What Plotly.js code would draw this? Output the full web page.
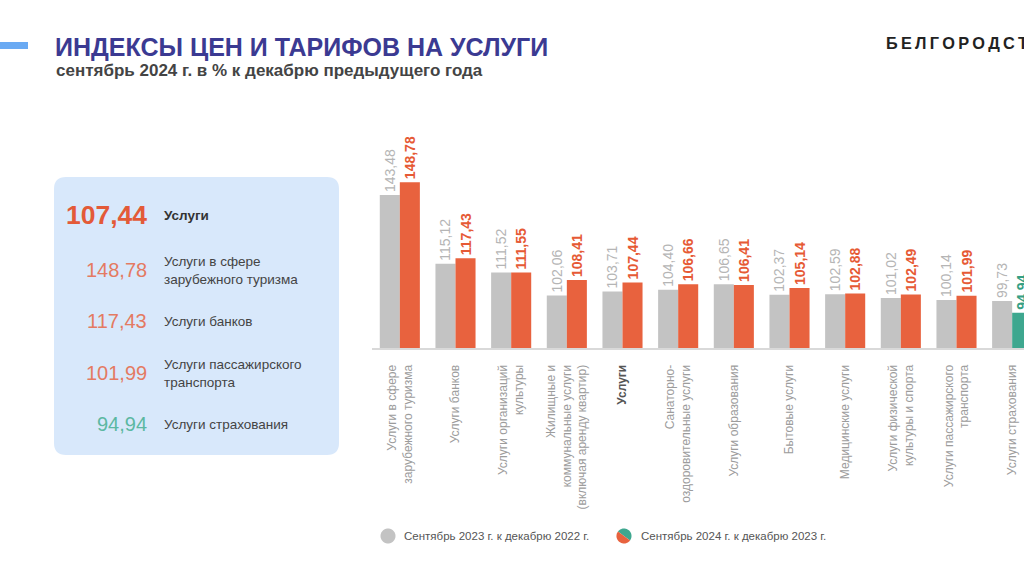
<!DOCTYPE html>
<html><head><meta charset="utf-8">
<script src="https://cdn.plot.ly/plotly-3.0.1.min.js"></script>
<style>html,body{margin:0;padding:0;overflow:hidden;background:#fff;width:1024px;height:576px}#chart{width:1100px;height:576px}</style>
</head><body><div id="chart"></div>
<script>
// ---- data ----
const categories = ['Услуги в сфере зарубежного туризма','Услуги банков','Услуги организаций культуры','Жилищные и коммунальные услуги (включая аренду квартир)','Услуги','Санаторно-оздоровительные услуги','Услуги образования','Бытовые услуги','Медицинские услуги','Услуги физической культуры и спорта','Услуги пассажирского транспорта','Услуги страхования'];
const tickLabels = ['Услуги в сфере<br>зарубежного туризма','Услуги банков','Услуги организаций<br>культуры','Жилищные и<br>коммунальные услуги<br>(включая аренду квартир)','<b><span style="color:#555">Услуги</span></b>','Санаторно-<br>оздоровительные услуги','Услуги образования','Бытовые услуги','Медицинские услуги','Услуги физической<br>культуры и спорта','Услуги пассажирского<br>транспорта','Услуги страхования'];
const sep2023 = [143.48,115.12,111.52,102.06,103.71,104.40,106.65,102.37,102.59,101.02,100.14,99.73];
const sep2024 = [148.78,117.43,111.55,108.41,107.44,106.66,106.41,105.14,102.88,102.49,101.99,94.94];
const seriesNames = ['Сентябрь 2023 г. к декабрю 2022 г.','Сентябрь 2024 г. к декабрю 2023 г.'];
const panelIdx = [4,0,1,10,11];
const panelLabels = ['Услуги','Услуги в сфере<br>зарубежного туризма','Услуги банков','Услуги пассажирского<br>транспорта','Услуги страхования'];
const titleText = 'ИНДЕКСЫ ЦЕН И ТАРИФОВ НА УСЛУГИ';
const subtitleText = 'сентябрь 2024 г. в % к декабрю предыдущего года';
const brandText = 'БЕЛГОРОДСТАТ';

// ---- layout helpers ----
const W = 1100, H = 576, M = {l:372, r:60, t:120, b:228};
const PW = W - M.l - M.r, PH = H - M.t - M.b;
const px = x => (x - M.l) / PW;
const py = y => (H - M.b - y) / PH;
const fmt = v => v.toFixed(2).replace('.', ',');

const GRAY = '#c3c3c3', ORANGE = '#e8623e', TEAL = '#3ea78f';
const col24 = sep2024.map(v => v < 100 ? TEAL : ORANGE);
const txt24 = sep2024.map(v => v < 100 ? '#36a084' : '#e65a35');

const FONT = 'Liberation Sans, Arial, sans-serif';

const traces = [
  {type:'bar', name:seriesNames[0], x:categories, y:sep2023, marker:{color:GRAY},
   text:sep2023.map(fmt), textposition:'outside', textangle:-90, constraintext:'none',
   textfont:{family:FONT, size:14, color:'#b5b5b5'}, cliponaxis:false, hoverinfo:'none'},
  {type:'bar', name:seriesNames[1], x:categories, y:sep2024, marker:{color:col24},
   text:sep2024.map(fmt), textposition:'outside', textangle:-90, constraintext:'none',
   textfont:{family:FONT, size:14, color:txt24, weight:700}, cliponaxis:false, hoverinfo:'none'}
];

function rr(x0,y0,x1,y1,r){
  return `M${px(x0+r)},${py(y0)} L${px(x1-r)},${py(y0)} Q${px(x1)},${py(y0)} ${px(x1)},${py(y0+r)} L${px(x1)},${py(y1-r)} Q${px(x1)},${py(y1)} ${px(x1-r)},${py(y1)} L${px(x0+r)},${py(y1)} Q${px(x0)},${py(y1)} ${px(x0)},${py(y1-r)} L${px(x0)},${py(y0+r)} Q${px(x0)},${py(y0)} ${px(x0+r)},${py(y0)} Z`;
}
function halfCircle(cx,cy,r,a0){
  let s = '';
  for(let i=0;i<=24;i++){
    const a = a0 + Math.PI*i/24;
    const X = cx + r*Math.cos(a), Y = cy - r*Math.sin(a);
    s += (i===0?'M':'L') + px(X) + ',' + py(Y) + ' ';
  }
  return s + 'Z';
}

const shapes = [
  {type:'rect', xref:'paper', yref:'paper', x0:px(0), x1:px(28), y0:py(42), y1:py(49), fillcolor:'#6aaaf3', line:{width:0}},
  {type:'path', xref:'paper', yref:'paper', path:rr(54,177,339,455,12), fillcolor:'#d8e8fb', line:{width:0}},
  {type:'path', xref:'paper', yref:'paper', path:halfCircle(388,536,7.5,0), fillcolor:GRAY, line:{width:0}},
  {type:'path', xref:'paper', yref:'paper', path:halfCircle(388,536,7.5,Math.PI), fillcolor:GRAY, line:{width:0}},
  {type:'path', xref:'paper', yref:'paper', path:halfCircle(624,536,7.5,-Math.PI/5), fillcolor:TEAL, line:{width:0}},
  {type:'path', xref:'paper', yref:'paper', path:halfCircle(624,536,7.5,Math.PI-Math.PI/5), fillcolor:ORANGE, line:{width:0}}
];

const ann = [
  {text:'<b>'+titleText+'</b>', x:px(53), y:py(47), font:{family:FONT, size:25, color:'#3b3a92'}},
  {text:'<b>'+subtitleText+'</b>', x:px(54), y:py(70), font:{family:FONT, size:17, color:'#444'}},
  {text:'<b>'+brandText.split('').join('\u2009')+'</b>', x:px(884), y:py(43), font:{family:FONT, size:16.3, color:'#222'}},
  {text:seriesNames[0], x:px(402), y:py(536), font:{family:FONT, size:11.5, color:'#555'}},
  {text:seriesNames[1], x:px(639), y:py(536), font:{family:FONT, size:11.5, color:'#555'}}
];
const rowY = [215, 270, 321, 373, 424];
panelIdx.forEach((k,i) => {
  const v = sep2024[k];
  const first = i === 0;
  const c = v < 100 ? '#5cb8a2' : (first ? '#e35a38' : '#e47a62');
  ann.push({text: first ? '<b>'+fmt(v)+'</b>' : fmt(v), x:px(149), y:py(rowY[i]), xanchor:'right',
    font:{family:FONT, size: first ? 26.5 : 20, color:c}});
  ann.push({text: first ? '<b>'+panelLabels[i]+'</b>' : panelLabels[i], x:px(162), y:py(rowY[i]), align:'left',
    font:{family:FONT, size:13.5, color: first ? '#333' : '#444'}});
});
ann.forEach(a => { a.xref='paper'; a.yref='paper'; a.showarrow=false; if(!a.xanchor) a.xanchor='left'; a.yanchor='middle'; if(!a.align) a.align='left'; });

const layout = {
  width:W, height:H, margin:M, paper_bgcolor:'#fff', plot_bgcolor:'#fff',
  barmode:'group', bargap:0.28, bargroupgap:0, showlegend:false,
  font:{family:FONT},
  xaxis:{type:'category', showline:true, linecolor:'#d9d9d9', linewidth:2, ticks:'', showgrid:false,
    tickangle:-90, tickmode:'array', tickvals:categories, ticktext:tickLabels,
    tickfont:{family:FONT, size:12, color:'#9c9c9c'}, ticklabelstandoff:10, fixedrange:true},
  yaxis:{range:[80.4,174.4], visible:false, showgrid:false, zeroline:false, fixedrange:true},
  shapes:shapes, annotations:ann
};
Plotly.newPlot('chart', traces, layout, {displayModeBar:false, staticPlot:true});
</script></body></html>
